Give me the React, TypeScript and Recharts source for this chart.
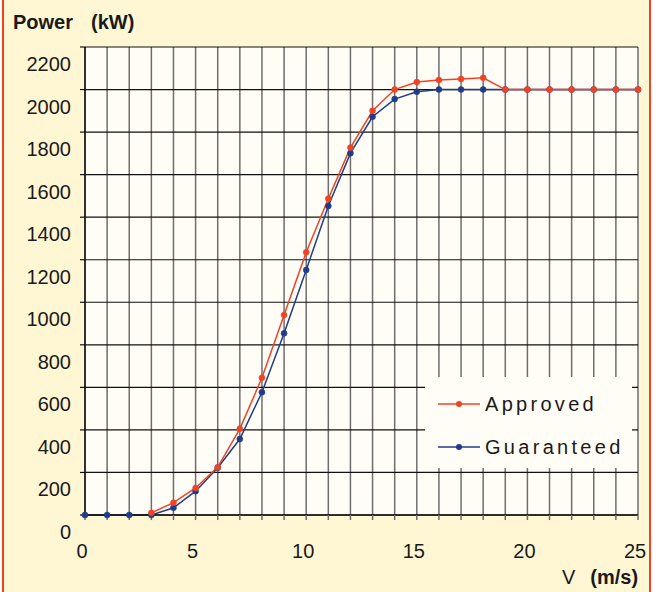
import React from "react"
import { LineChart, Line, XAxis, YAxis, CartesianGrid, Legend } from "recharts"

// wind speed (m/s) and power (kW)
const speeds = [0, 1, 2, 3, 4, 5, 6, 7, 8, 9, 10, 11, 12, 13, 14, 15, 16, 17, 18, 19, 20, 21, 22, 23, 24, 25]
const approved = [null, null, null, 10, 58, 127, 225, 405, 645, 940, 1235, 1487, 1727, 1900, 2000, 2035, 2045, 2050, 2055, 2000, 2000, 2000, 2000, 2000, 2000, 2000]
const guaranteed = [0, 0, 0, 0, 34, 112, 222, 357, 577, 854, 1152, 1453, 1701, 1872, 1955, 1990, 2000, 2000, 2000, 2000, 2000, 2000, 2000, 2000, 2000, 2000]
const yTicks = [0, 200, 400, 600, 800, 1000, 1200, 1400, 1600, 1800, 2000, 2200]
const xLabels = [0, 5, 10, 15, 20, 25]

const data = speeds.map((v, i) => ({ v, approved: approved[i], guaranteed: guaranteed[i] }))

const FONT = "'Liberation Sans', Arial, sans-serif"
const INK = "#1a1a1a"
const RED = "#ee4424"
const BLUE = "#1f3c88"
const PLOT_BG = "#fffdf5"

function YTick({ x, y, payload }: any) {
  return (
    <text x={x - 7} y={y + 17} textAnchor="end" dominantBaseline="central" fontSize={20} fontFamily={FONT} fill={INK}>
      {payload.value}
    </text>
  )
}

function XTick({ x, y, payload }: any) {
  if (!xLabels.includes(payload.value)) return <g />
  return (
    <text x={x - 3} y={y + 29} textAnchor="middle" dominantBaseline="central" fontSize={20} fontFamily={FONT} fill={INK}>
      {payload.value}
    </text>
  )
}

function LegendBox() {
  const items = [
    { name: "Approved", color: RED },
    { name: "Guaranteed", color: BLUE },
  ]
  return (
    <div style={{ width: 207, height: 91, background: PLOT_BG, paddingTop: 5, boxSizing: "border-box" }}>
      {items.map((it) => (
        <div key={it.name} style={{ height: 43, display: "flex", alignItems: "center" }}>
          <svg width={42} height={10} style={{ marginLeft: 13, marginRight: 5 }}>
            <line x1={0} y1={5} x2={42} y2={5} stroke={it.color} strokeWidth={1.5} />
            <circle cx={21} cy={5} r={3} fill={it.color} />
          </svg>
          <span style={{ fontFamily: FONT, fontSize: 20, letterSpacing: 3.3, color: INK, lineHeight: "20px" }}>
            {it.name}
          </span>
        </div>
      ))}
    </div>
  )
}

export default function App() {
  return (
    <div style={{ position: "absolute", left: 0, top: 0, width: 661, height: 592, background: "#fff", overflow: "hidden" }}>
      <div
        style={{
          position: "absolute",
          left: 2,
          top: 0,
          width: 649,
          height: 592,
          boxSizing: "border-box",
          background: "#fff6d4",
          borderLeft: `2px solid ${RED}`,
          borderRight: `2px solid ${RED}`,
        }}
      />
      <div style={{ position: "absolute", left: 0, top: 0 }}>
        <LineChart width={661} height={592} data={data} margin={{ top: 47, right: 23, left: 0, bottom: 0 }}>
          <CartesianGrid horizontal={false} stroke="#6e6e6e" strokeWidth={1.5} fill={PLOT_BG} />
          <CartesianGrid vertical={false} stroke="#111" strokeWidth={1.2} />
          <XAxis
            dataKey="v"
            type="number"
            domain={[0, 25]}
            ticks={speeds}
            interval={0}
            height={77}
            tickSize={5}
            tick={<XTick />}
            axisLine={{ stroke: "#111", strokeWidth: 1.5 }}
            tickLine={{ stroke: "#6e6e6e", strokeWidth: 1.5 }}
          />
          <YAxis
            type="number"
            domain={[0, 2200]}
            ticks={yTicks}
            interval={0}
            width={85}
            tickSize={5}
            tick={<YTick />}
            axisLine={{ stroke: "#111", strokeWidth: 1.5 }}
            tickLine={{ stroke: "#111", strokeWidth: 1.2 }}
          />
          <Legend
            layout="horizontal"
            verticalAlign="middle"
            align="center"
            content={() => <LegendBox />}
            wrapperStyle={{ left: 425, top: 377, width: 207, height: 91 }}
          />
          <Line
            dataKey="guaranteed"
            name="Guaranteed"
            stroke={BLUE}
            strokeWidth={1.5}
            dot={{ r: 3, fill: BLUE, stroke: BLUE, strokeWidth: 0.5 }}
            isAnimationActive={false}
            legendType="none"
          />
          <Line
            dataKey="approved"
            name="Approved"
            stroke={RED}
            strokeWidth={1.5}
            dot={{ r: 3, fill: RED, stroke: RED, strokeWidth: 0.5 }}
            isAnimationActive={false}
          />
        </LineChart>
      </div>
      <div style={{ position: "absolute", left: 13, top: 12, fontFamily: FONT, fontSize: 20, lineHeight: "20px", fontWeight: "bold", color: INK, whiteSpace: "nowrap" }}>
        Power<span style={{ marginLeft: 18 }}>(kW)</span>
      </div>
      <div style={{ position: "absolute", left: 562, top: 567, fontFamily: FONT, fontSize: 20, lineHeight: "20px", color: INK, whiteSpace: "nowrap" }}>
        V<span style={{ marginLeft: 15, fontWeight: "bold" }}>(m/s)</span>
      </div>
    </div>
  )
}
